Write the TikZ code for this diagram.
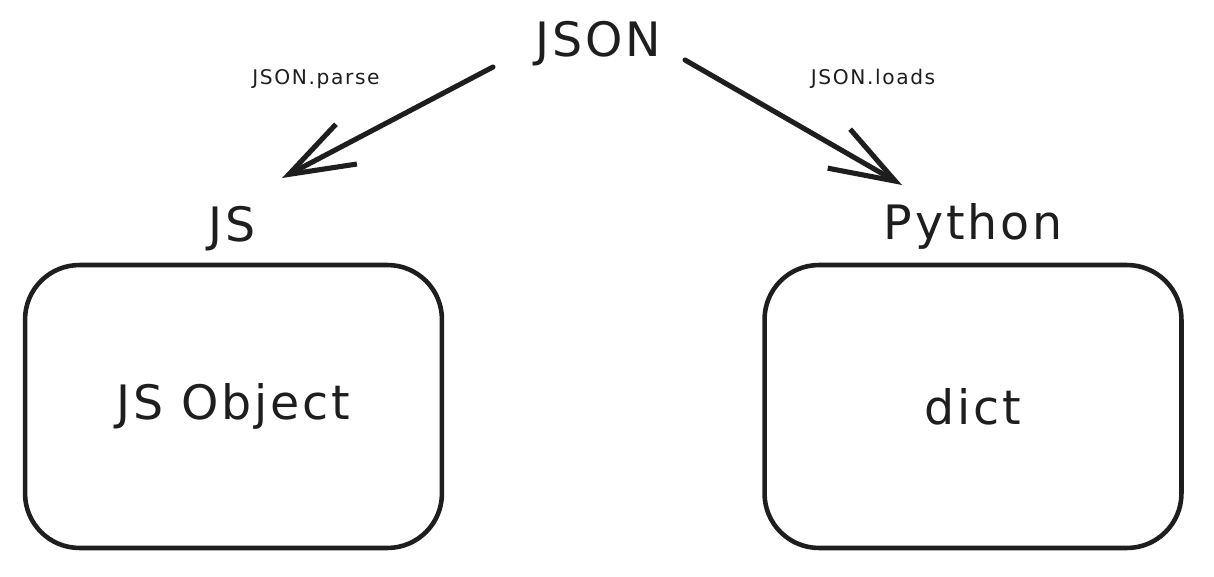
\documentclass[tikz,border=0pt]{standalone}
\usepackage{fontspec}
\setmainfont{DejaVu Sans}
\usepackage{tikz}
\usetikzlibrary{arrows.meta}
\definecolor{ink}{HTML}{1E1E1E}

\begin{document}
\begin{tikzpicture}[x=0.02cm,y=-0.02cm,ink,line cap=round,line join=round,
    big/.style={font=\fontsize{27}{32}\selectfont\addfontfeature{LetterSpace=6}},
    small/.style={font=\fontsize{11.5}{14}\selectfont\addfontfeature{LetterSpace=8}},
    box/.style={draw,line width=2.6pt,rounded corners=31pt,minimum width=8.34cm,minimum height=5.66cm,big},
    conv/.style={line width=2.9pt,-{Straight Barb[length=13mm,width=9mm]}}]
  \useasboundingbox (0,0) rectangle (1214,577);
  % titles
  \node[big,anchor=base] (json) at (598,57) {JSON};
  \node[big,anchor=base] (js) at (232,242) {JS};
  \node[big,anchor=base] (python) at (973,240) {Python};
  % boxes
  \node[box] (jsobj) at (233.5,406.5) {JS Object};
  \node[box] (dict) at (973,406.5) {dict};
  % JSON -> JS
  \coordinate (parsefrom) at (493,67);
  \coordinate (parseto) at (282,178);
  \draw[conv] (parsefrom) -- (parseto);
  \node[small] (parse) at (316,79) {JSON.parse};
  % JSON -> Python
  \coordinate (loadsfrom) at (685,60);
  \coordinate (loadsto) at (902,185);
  \draw[conv] (loadsfrom) -- (loadsto);
  \node[small] (loads) at (873,79) {JSON.loads};
\end{tikzpicture}
\end{document}
